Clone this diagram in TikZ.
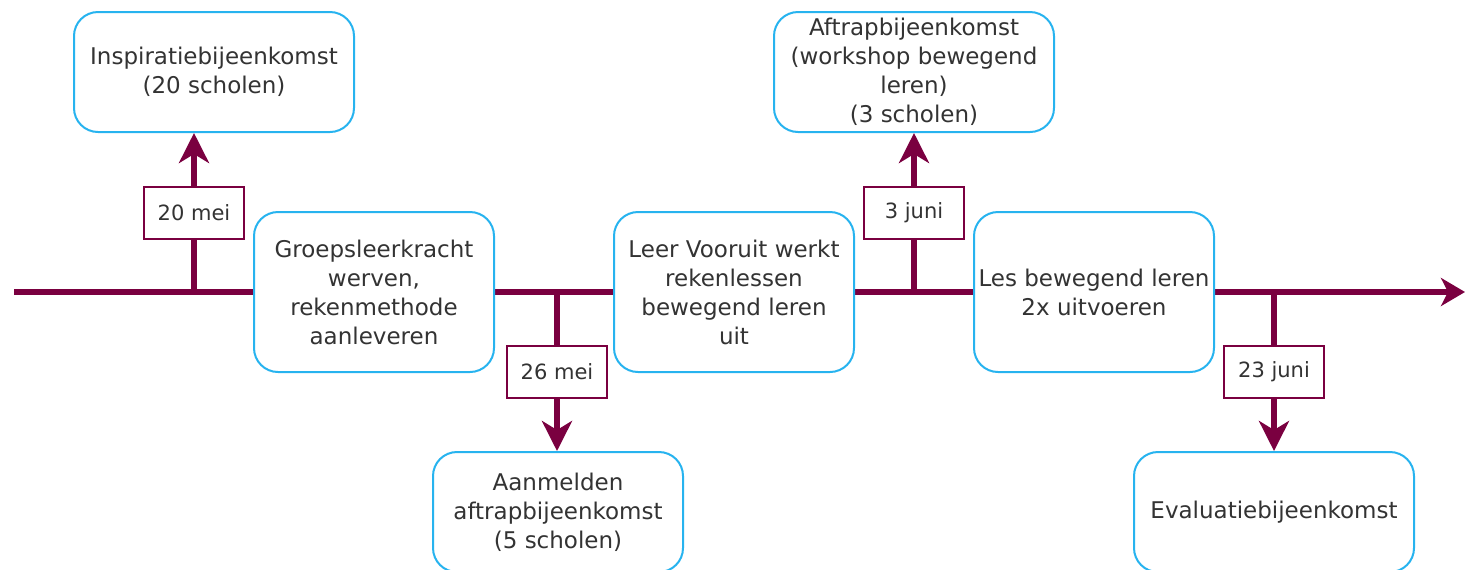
\documentclass[tikz,border=0pt]{standalone}
\usepackage{fontspec}
\setmainfont{DejaVu Sans}
\usepackage{xcolor}
\usepackage{tikz}
\usetikzlibrary{arrows.meta,positioning}
\definecolor{tlmaroon}{HTML}{7A0040}
\definecolor{tlblue}{HTML}{27B3EF}
\definecolor{tltext}{HTML}{333333}

\begin{document}
\begin{tikzpicture}[
  x=0.5pt,y=-0.5pt,
  every node/.style={font=\fontsize{11.5}{14.5}\selectfont,align=center,text=tltext},
  event/.style={draw=tlblue,line width=1pt,rounded corners=12pt,fill=white,inner sep=2pt,minimum width=140pt,minimum height=60pt},
  phase/.style={event,minimum width=120pt,minimum height=80pt},
  datebox/.style={draw=tlmaroon,line width=1pt,fill=white,minimum width=50pt,minimum height=26pt,font=\fontsize{10.5}{12}\selectfont},
  axis/.style={-{Stealth[length=12pt,width=14pt,inset=3.5pt]},line width=2.7pt,color=tlmaroon},
  tick/.style={-{Stealth[length=15pt,width=15pt,inset=4.5pt]},line width=2.7pt,color=tlmaroon}
]
\useasboundingbox (0,0) rectangle (1466,569);
% timeline
\coordinate (tstart) at (14,292);
\coordinate (tend) at (1465,292);
\draw[axis] (tstart) -- (tend);
% phases on the line
\node[phase] (werven) at (374,292) {Groepsleerkracht\\werven,\\rekenmethode\\aanleveren};
\node[phase,right=59pt of werven] (lessen) {Leer Vooruit werkt\\rekenlessen\\bewegend leren\\uit};
\node[phase,right=59pt of lessen] (uitvoeren) {Les bewegend leren\\2x uitvoeren};
% meetings
\node[event] (inspiratie) at (214,72) {Inspiratiebijeenkomst\\(20 scholen)};
\node[event] (aftrap) at (914,72) {Aftrapbijeenkomst\\(workshop bewegend\\leren)\\(3 scholen)};
\node[event,minimum width=125pt] (aanmelden) at (558,512) {Aanmelden\\aftrapbijeenkomst\\(5 scholen)};
\node[event] (evaluatie) at (1274,512) {Evaluatiebijeenkomst};
% dates
\coordinate (d1) at (194,292);
\coordinate (d2) at (557,292);
\coordinate (d3) at (914,292);
\coordinate (d4) at (1274,292);
\draw[tick] (d1) -- node[datebox] {20 mei} (d1 |- inspiratie.south);
\draw[tick] (d2) -- node[datebox] {26 mei} (d2 |- aanmelden.north);
\draw[tick] (d3) -- node[datebox] {3 juni} (d3 |- aftrap.south);
\draw[tick] (d4) -- node[datebox] {23 juni} (d4 |- evaluatie.north);
\end{tikzpicture}
\end{document}
